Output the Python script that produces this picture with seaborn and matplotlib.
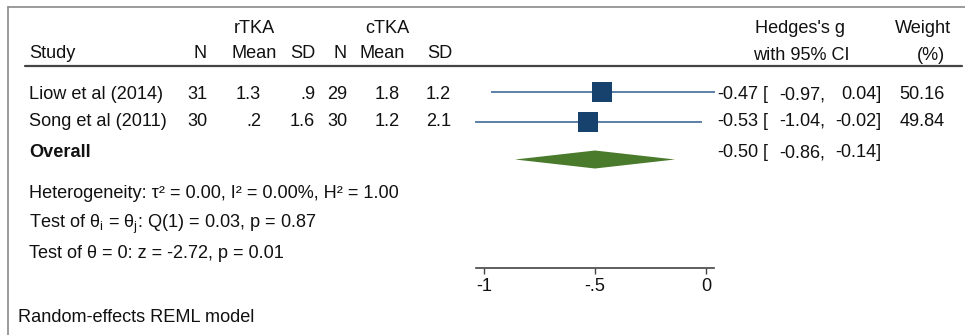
import matplotlib
matplotlib.use("Agg")
import matplotlib.pyplot as plt
import seaborn as sns
import pandas as pd

sns.set_theme(style="white")
plt.rcParams['font.family'] = ['Liberation Sans', 'DejaVu Sans']
plt.rcParams['mathtext.fontset'] = 'custom'
plt.rcParams['mathtext.rm'] = 'Liberation Sans'
plt.rcParams['mathtext.it'] = 'Liberation Sans'

# ---- data ----
studies = ["Liow et al (2014)", "Song et al (2011)"]
r_n = [31, 30]
r_mean = [1.3, 0.2]
r_sd = [0.9, 1.6]
c_n = [29, 30]
c_mean = [1.8, 1.2]
c_sd = [1.2, 2.1]
g = [-0.47, -0.53]
g_lo = [-0.97, -1.04]
g_hi = [0.04, -0.02]
weights = [50.16, 49.84]
overall = [-0.50, -0.86, -0.14]   # estimate, lower, upper
xticks = [-1, -0.5, 0]
xticklabels = ["-1", "-.5", "0"]
stats_lines = [
    "Heterogeneity: \u03c4\u00b2 = 0.00, I\u00b2 = 0.00%, H\u00b2 = 1.00",
    "Test of \u03b8$_\\mathregular{i}$ = \u03b8$_\\mathregular{j}$: Q(1) = 0.03, p = 0.87",
    "Test of \u03b8 = 0: z = -2.72, p = 0.01",
]
model_note = "Random-effects REML model"

rows = [0, 1]
overall_row = 2.25

def sfmt(v):
    s = f"{v:g}"
    if s.startswith("0."):
        s = s[1:]
    return s

W, H = 965, 335
fig = plt.figure(figsize=(W / 100, H / 100), dpi=100)
fs = 13.1
TXT = "#111111"

# overlay axes in pixel coordinates for the table text
ax0 = fig.add_axes([0, 0, 1, 1])
ax0.set_xlim(0, W)
ax0.set_ylim(H, 0)
ax0.axis("off")

# frame (top and left)
ax0.plot([8, W], [7, 7], color="#8a8a8a", lw=1.2)
ax0.plot([8, 8], [7, H], color="#8a8a8a", lw=1.2)
# header rule
ax0.plot([25, 962], [66, 66], color="#444444", lw=1.6)

def t(x, y, s, ha="left", **kw):
    ax0.text(x, y, s, ha=ha, va="baseline", fontsize=fs, color=TXT, **kw)

# headers
t(254, 33, "rTKA", ha="center")
t(387, 33, "cTKA", ha="center")
t(29, 58, "Study")
t(207, 58, "N", ha="right")
t(277, 58, "Mean", ha="right")
t(315, 58, "SD", ha="right")
t(347, 58, "N", ha="right")
t(405, 58, "Mean", ha="right")
t(452, 58, "SD", ha="right")
t(800, 33, "Hedges's g", ha="center")
t(801, 60, "with 95% CI", ha="center")
t(923, 33, "Weight", ha="center")
t(931, 60, "(%)", ha="center")

row_base = [99, 126]
for i, yb in enumerate(row_base):
    t(29, yb, studies[i])
    t(207, yb, str(r_n[i]), ha="right")
    t(261, yb, sfmt(r_mean[i]), ha="right")
    t(315, yb, sfmt(r_sd[i]), ha="right")
    t(347, yb, str(c_n[i]), ha="right")
    t(400, yb, sfmt(c_mean[i]), ha="right")
    t(451, yb, sfmt(c_sd[i]), ha="right")
    t(758, yb, f"{g[i]:.2f}", ha="right")
    t(763, yb, "[")
    t(825, yb, f"{g_lo[i]:.2f},", ha="right")
    t(881, yb, f"{g_hi[i]:.2f}]", ha="right")
    t(945, yb, f"{weights[i]:.2f}", ha="right")

t(29, 157, "Overall", fontweight="bold")
t(758, 157, f"{overall[0]:.2f}", ha="right")
t(763, 157, "[")
t(825, 157, f"{overall[1]:.2f},", ha="right")
t(881, 157, f"{overall[2]:.2f}]", ha="right")

for yb, s in zip([198, 228, 258], stats_lines):
    t(29, yb, s)
t(18, 322, model_note)

# ---- forest plot axes ----
x_px0, x_px1 = 476, 714
y_top, y_bot = 70, 268
px_per_unit = 222.0
zero_px = 706.0
ax = fig.add_axes([x_px0 / W, (H - y_bot) / H, (x_px1 - x_px0) / W, (y_bot - y_top) / H])
ax.set_xlim((x_px0 - zero_px) / px_per_unit, (x_px1 - zero_px) / px_per_unit)
row_px = 30.0
ax.set_ylim((y_bot - 92) / row_px, (y_top - 92) / row_px)
ax.patch.set_alpha(0)

ax.hlines(rows, g_lo, g_hi, color="#2d5d8e", lw=1.1, zorder=2, clip_on=False)
df = pd.DataFrame({"g": g, "row": rows, "w": weights})
sizes = [208 * w / max(weights) for w in weights]
sns.scatterplot(data=df, x="g", y="row", marker="s", s=sizes, color="#17426e",
                edgecolor="none", linewidth=0, ax=ax, zorder=3, legend=False, clip_on=False)
h = 0.3
ax.fill([overall[1], overall[0], overall[2], overall[0]],
        [overall_row, overall_row - h, overall_row, overall_row + h],
        color="#4a7a2c", lw=0, zorder=3)

for side in ["top", "right", "left"]:
    ax.spines[side].set_visible(False)
ax.spines["bottom"].set_color("#444444")
ax.spines["bottom"].set_linewidth(1.2)
ax.set_yticks([])
ax.set_xticks(xticks)
ax.set_xticklabels(xticklabels, fontsize=fs, color=TXT)
ax.tick_params(axis="x", direction="out", length=4.0, width=1.0, color="#444444", pad=3, bottom=True)
ax.set_xlabel("")
ax.set_ylabel("")

fig.savefig("out.png", dpi=100)
